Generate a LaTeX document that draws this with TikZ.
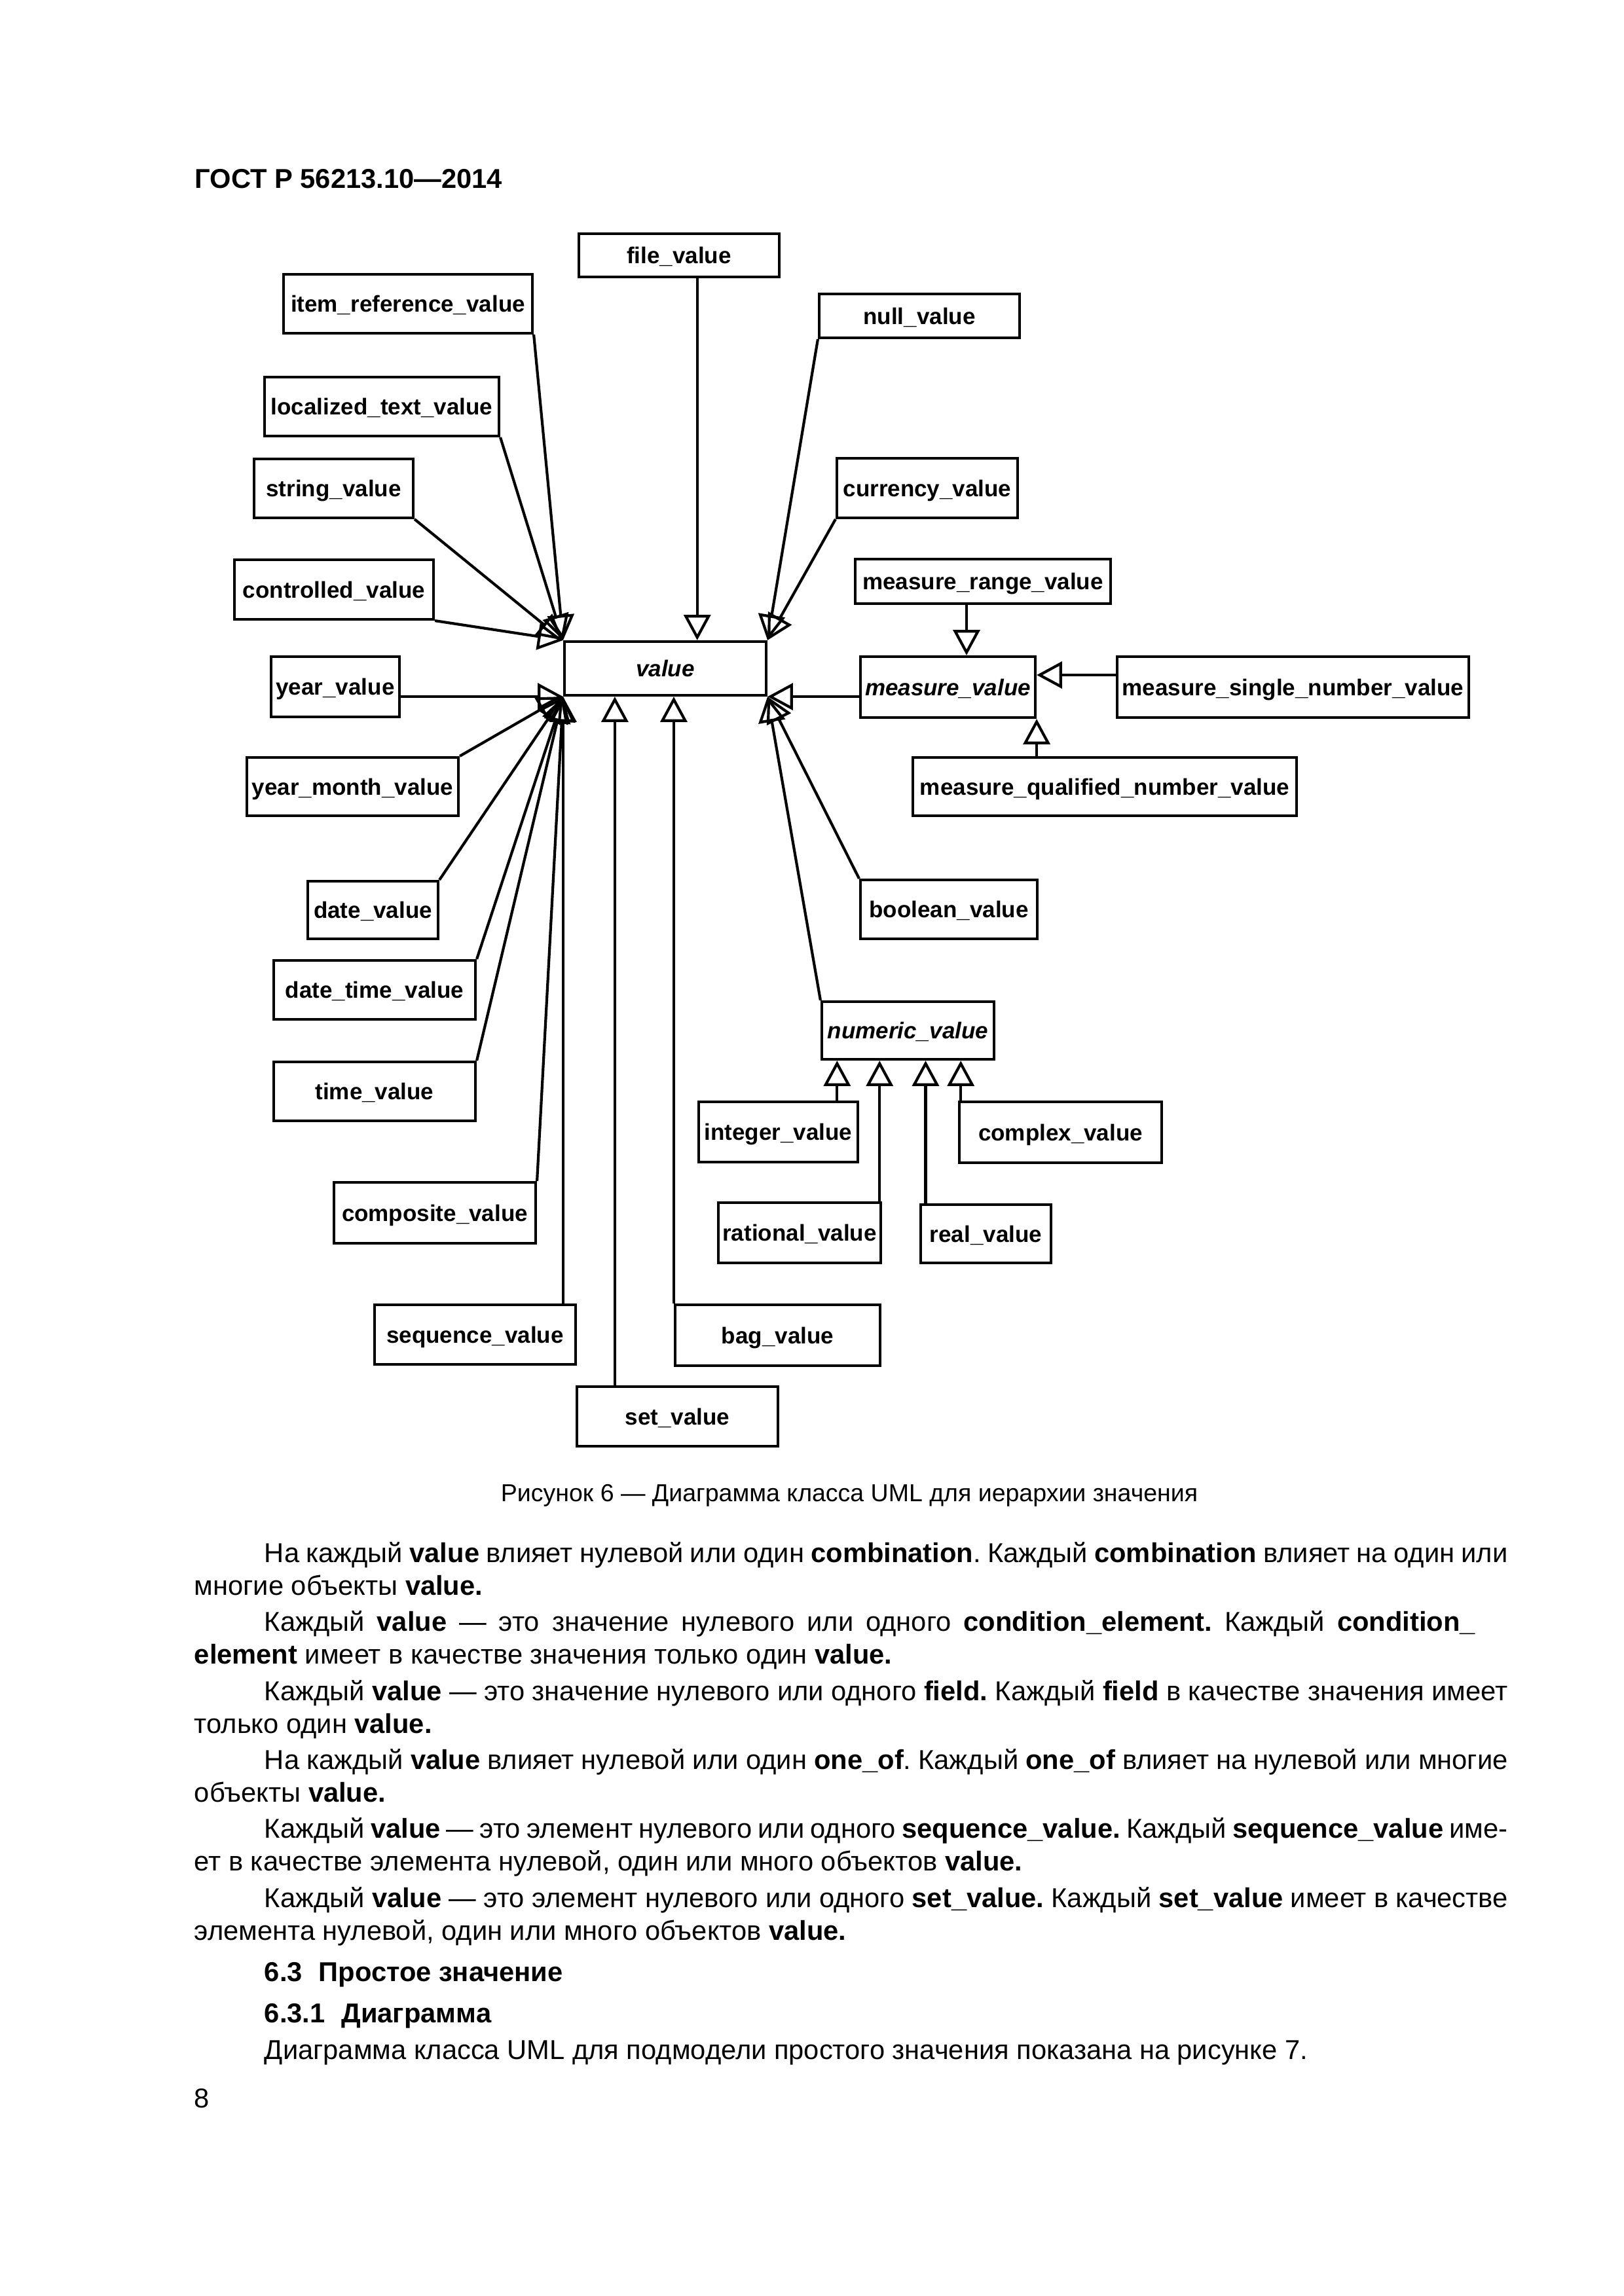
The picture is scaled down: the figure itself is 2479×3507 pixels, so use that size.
\documentclass[tikz,border=0pt]{standalone}
\usepackage{fontspec}
\setmainfont{Liberation Sans}
\usetikzlibrary{arrows.meta,calc}
\hyphenpenalty=10000
\exhyphenpenalty=10000
\frenchspacing
% class box from its corners (in pixels of the page)
\newcommand{\umlclass}[7][cls]{\node[#1, minimum width={(#5-#3)*0.24pt}, minimum height={(#6-#4)*0.24pt}] (#2) at ({(#3+#5)/2},{(#4+#6)/2}) {#7};}

\begin{document}
\begin{tikzpicture}[x=0.24pt, y=-0.24pt,
    cls/.style={draw, line width=1pt, inner sep=0pt, text depth=0pt, font=\fontsize{8.4}{10}\selectfont\bfseries},
    abscls/.style={cls, font=\fontsize{8.4}{10}\selectfont\bfseries\itshape},
    gen/.style={line width=1pt, -{Triangle[open, length=9.3pt, width=9.8pt]}},
    bodytext/.style={anchor=base west, inner sep=0pt, text width=481.4pt, font=\fontsize{10}{12}\selectfont,
        execute at begin node={\spaceskip=0.278em plus 0.3em minus 0.12em\relax}}]
    \fill[white] (0,0) rectangle (2479,3507);
    \useasboundingbox (0,0) rectangle (2479,3507);

    % Running head
    \node[anchor=base west, inner sep=0pt, font=\fontsize{10}{12}\selectfont\bfseries] (head) at (297,288) {ГОСТ Р 56213.10—2014};

    % Classes
    \umlclass{file}{884}{357}{1190}{423}{file\_value}
    \umlclass{itemref}{433}{419}{813}{509}{item\_reference\_value}
    \umlclass{null}{1251}{449}{1557}{516}{null\_value}
    \umlclass{loctext}{404}{576}{762}{666}{localized\_text\_value}
    \umlclass{string}{388}{701}{631}{791}{string\_value}
    \umlclass{currency}{1278}{700}{1554}{791}{currency\_value}
    \umlclass{controlled}{358}{855}{662}{946}{controlled\_value}
    \umlclass{mrange}{1306}{854}{1696}{922}{measure\_range\_value}
    \umlclass[abscls]{value}{862}{980}{1170}{1062}{value}
    \umlclass{year}{414}{1003}{610}{1095}{year\_value}
    \umlclass[abscls]{measure}{1314}{1003}{1581}{1096}{measure\_value}
    \umlclass{msingle}{1706}{1003}{2243}{1096}{measure\_single\_number\_value}
    \umlclass{yearmonth}{377}{1157}{700}{1246}{year\_month\_value}
    \umlclass{mqual}{1394}{1157}{1980}{1246}{measure\_qualified\_number\_value}
    \umlclass{date}{470}{1346}{669}{1434}{date\_value}
    \umlclass{boolean}{1314}{1344}{1584}{1434}{boolean\_value}
    \umlclass{datetime}{418}{1467}{726}{1557}{date\_time\_value}
    \umlclass[abscls]{numeric}{1255}{1530}{1518}{1618}{numeric\_value}
    \umlclass{time}{418}{1622}{726}{1712}{time\_value}
    \umlclass{integer}{1067}{1683}{1310}{1775}{integer\_value}
    \umlclass{complex}{1465}{1683}{1774}{1776}{complex\_value}
    \umlclass{composite}{510}{1806}{818}{1899}{composite\_value}
    \umlclass{rational}{1097}{1837}{1345}{1929}{rational\_value}
    \umlclass{real}{1406}{1840}{1605}{1929}{real\_value}
    \umlclass{sequence}{572}{1993}{879}{2084}{sequence\_value}
    \umlclass{bag}{1031}{1993}{1344}{2086}{bag\_value}
    \umlclass{set}{881}{2118}{1188}{2209}{set\_value}

    % Generalisations into value
    \foreach \src in {itemref, loctext, string, controlled}
        \draw[gen] (\src.south east) -- (value.north west);
    \coordinate (filein) at ($(value.north west)!0.656!(value.north east)$);
    \draw[gen] (file.south -| filein) -- (filein);
    \foreach \src in {null, currency}
        \draw[gen] (\src.south west) -- (value.north east);
    \draw[gen] (year.east |- value.south west) -- (value.south west);
    \foreach \src in {yearmonth, date, datetime, time, composite}
        \draw[gen] (\src.north east) -- (value.south west);
    \draw[gen] (sequence.north -| value.south west) -- (value.south west);
    \coordinate (setin) at ($(value.south west)!0.253!(value.south east)$);
    \draw[gen] (set.north -| setin) -- (setin);
    \draw[gen] (bag.north west) -- (bag.north west |- value.south);
    \draw[gen] (measure.west |- value.south east) -- (value.south east);
    \foreach \src in {boolean, numeric}
        \draw[gen] (\src.north west) -- (value.south east);

    % Generalisations into measure_value
    \coordinate (mrin) at ($(measure.north west)!0.605!(measure.north east)$);
    \draw[gen] (mrange.south -| mrin) -- (mrin);
    \coordinate (msin) at ($(measure.north east)!0.31!(measure.south east)$);
    \draw[gen] (msingle.west |- msin) -- (msin);
    \draw[gen] (mqual.north -| measure.south east) -- (measure.south east);

    % Generalisations into numeric_value
    \foreach \src/\f in {integer/0.095, rational/0.338, real/0.601, complex/0.802} {
        \coordinate (numin) at ($(numeric.south west)!\f!(numeric.south east)$);
        \draw[gen] (\src.north -| numin) -- (numin);
    }

    % Caption
    \node[anchor=base, inner sep=0pt, font=\fontsize{9}{11}\selectfont] (caption) at (1297,2293) {Рисунок 6 — Диаграмма класса UML для иерархии значения};

    % Body text
    \node[bodytext] (para1) at (296,2386) {\hspace*{25.7pt}На каждый \textbf{value} влияет нулевой или один \textbf{combination}. Каждый \textbf{combination} влияет на один или\linebreak многие объекты \textbf{value.}};
    \node[bodytext] (para2) at (296,2491) {\hspace*{25.7pt}Каждый \textbf{value} — это значение нулевого или одного \textbf{condition\_element.} Каждый \textbf{condition\_}\linebreak \textbf{element} имеет в качестве значения только один \textbf{value.}};
    \node[bodytext] (para3) at (296,2597) {\hspace*{25.7pt}Каждый \textbf{value} — это значение нулевого или одного \textbf{field.} Каждый \textbf{field} в качестве значения имеет\linebreak только один \textbf{value.}};
    \node[bodytext] (para4) at (296,2702) {\hspace*{25.7pt}На каждый \textbf{value} влияет нулевой или один \textbf{one\_of}. Каждый \textbf{one\_of} влияет на нулевой или многие\linebreak объекты \textbf{value.}};
    \node[bodytext] (para5) at (296,2807) {\hspace*{25.7pt}Каждый \textbf{value} — это элемент нулевого или одного \textbf{sequence\_value.} Каждый \textbf{sequence\_value} име-\linebreak ет в качестве элемента нулевой, один или много объектов \textbf{value.}};
    \node[bodytext] (para6) at (296,2913) {\hspace*{25.7pt}Каждый \textbf{value} — это элемент нулевого или одного \textbf{set\_value.} Каждый \textbf{set\_value} имеет в качестве\linebreak элемента нулевой, один или много объектов \textbf{value.}};

    % Section headings
    \node[anchor=base west, inner sep=0pt, font=\fontsize{10}{12}\selectfont\bfseries] (sec) at (403,3026) {6.3\hspace{0.6em}Простое значение};
    \node[anchor=base west, inner sep=0pt, font=\fontsize{10}{12}\selectfont\bfseries] (subsec) at (403,3089) {6.3.1\hspace{0.6em}Диаграмма};
    \node[anchor=base west, inner sep=0pt, font=\fontsize{10}{12}\selectfont] (para7) at (403,3145) {Диаграмма класса UML для подмодели простого значения показана на рисунке 7.};

    % Page number
    \node[anchor=base west, inner sep=0pt, font=\fontsize{10}{12}\selectfont] (pageno) at (296,3219) {8};
\end{tikzpicture}
\end{document}
